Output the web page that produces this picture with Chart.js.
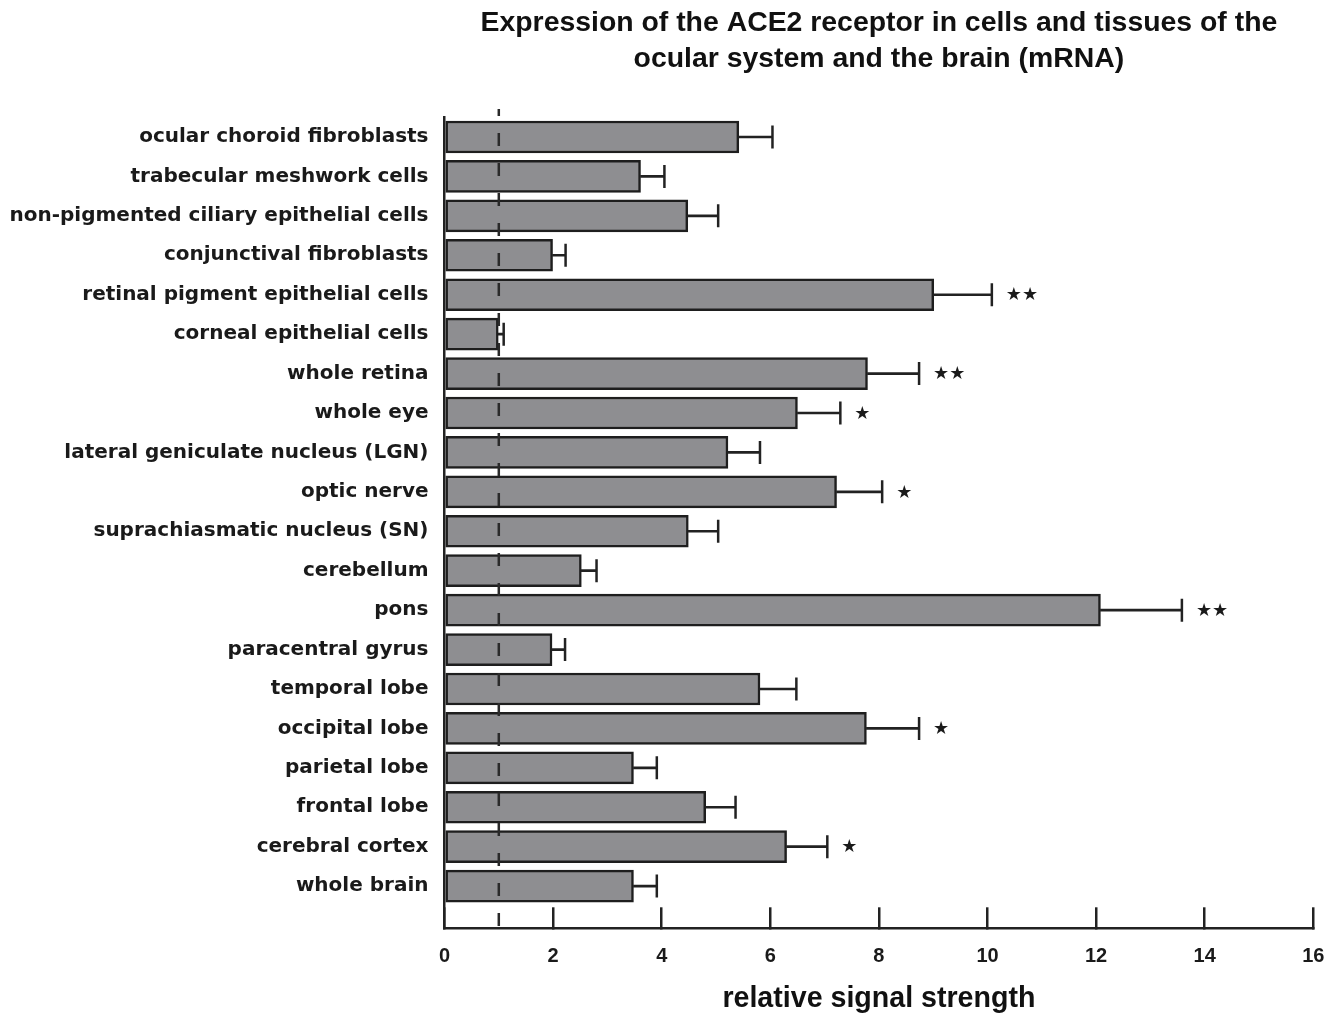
<!DOCTYPE html>
<html><head><meta charset="utf-8">
<script src="https://cdn.jsdelivr.net/npm/chart.js@4.4.0/dist/chart.umd.min.js"></script>
<style>html,body{margin:0;padding:0;background:#fff;overflow:hidden;} #wrap{width:1342px;height:1015px;}</style>
</head><body><div id="wrap"><canvas id="c" width="1342" height="1015"></canvas></div>
<script>
const categories = [
  'ocular choroid fibroblasts',
  'trabecular meshwork cells',
  'non-pigmented ciliary epithelial cells',
  'conjunctival fibroblasts',
  'retinal pigment epithelial cells',
  'corneal epithelial cells',
  'whole retina',
  'whole eye',
  'lateral geniculate nucleus (LGN)',
  'optic nerve',
  'suprachiasmatic nucleus (SN)',
  'cerebellum',
  'pons',
  'paracentral gyrus',
  'temporal lobe',
  'occipital lobe',
  'parietal lobe',
  'frontal lobe',
  'cerebral cortex',
  'whole brain'
];
const meanValues  = [5.42, 3.61, 4.48, 1.99, 9.01, 0.99, 7.79, 6.50, 5.22, 7.22, 4.49, 2.52, 12.08, 1.98, 5.81, 7.77, 3.48, 4.81, 6.30, 3.48];
const errorValues = [0.62, 0.44, 0.56, 0.24, 1.07, 0.10, 0.95, 0.79, 0.59, 0.84, 0.55, 0.28, 1.50, 0.24, 0.67, 0.97, 0.43, 0.55, 0.75, 0.43];
const significance = ['', '', '', '', '**', '', '**', '*', '', '*', '', '', '**', '', '', '*', '', '', '*', ''];
const xTickStep = 2;
const xMin = 0, xMax = 16;
const referenceLevel = 1;
const titleLines = ['Expression of the ACE2 receptor in cells and tissues of the', 'ocular system and the brain (mRNA)'];
const xTitle = 'relative signal strength';

const errEnds = meanValues.map((v, i) => +(v + errorValues[i]).toFixed(2));
const TEXT = '#1a1a1a';

const starPlugin = {
  id: 'stars',
  afterDatasetsDraw(chart) {
    const {ctx, scales: {x, y}} = chart;
    ctx.save();
    ctx.fillStyle = TEXT;
    ctx.font = '18px "DejaVu Sans"';
    ctx.textAlign = 'left';
    ctx.textBaseline = 'middle';
    significance.forEach((s, i) => {
      if (!s) return;
      ctx.fillText(s.replace(/\*/g, '\u2605'), x.getPixelForValue(errEnds[i]) + 14, y.getPixelForValue(i) + 1);
    });
    ctx.restore();
  }
};

new Chart(document.getElementById('c'), {
  type: 'bar',
  data: {
    datasets: [
      {
        type: 'line',
        data: [{x: referenceLevel, y: -0.71}, {x: referenceLevel, y: 20.07}],
        borderColor: '#2a2a2a',
        borderWidth: 2.5,
        borderDash: [13, 17],
        borderDashOffset: 6,
        pointRadius: 0,
        clip: false,
        order: 0
      },
      {
        type: 'scatter',
        data: errEnds.map((e, i) => ({x: e, y: i})),
        pointStyle: 'line',
        rotation: 90,
        radius: 11.5,
        borderWidth: 2.5,
        borderColor: '#222',
        backgroundColor: '#222',
        order: 1
      },
      {
        data: meanValues.map((v, i) => ({x: [v, errEnds[i]], y: i})),
        backgroundColor: '#222',
        borderWidth: 0,
        barThickness: 2,
        grouped: false,
        order: 2
      },
      {
        data: meanValues.map((v, i) => ({x: v, y: i})),
        backgroundColor: '#8e8e91',
        borderColor: '#1e1e1e',
        borderWidth: 2.5,
        borderSkipped: false,
        barThickness: 32,
        grouped: false,
        order: 3
      }
    ]
  },
  options: {
    indexAxis: 'y',
    responsive: false,
    animation: false,
    events: [],
    layout: {padding: {top: 0, right: 28.7, bottom: 0, left: 0}},
    plugins: {
      legend: {display: false},
      tooltip: {enabled: false},
      title: {display: false}
    },
    scales: {
      x: {
        type: 'linear',
        position: 'bottom',
        min: xMin,
        max: xMax,
        ticks: {
          stepSize: xTickStep,
          color: TEXT,
          padding: 37,
          maxRotation: 0,
          font: {family: '"Liberation Sans", Arial, sans-serif', size: 20, weight: 'bold'}
        },
        grid: {display: true, drawOnChartArea: false, drawTicks: true, tickLength: -21, color: '#222', lineWidth: 2.5},
        border: {display: true, color: '#222', width: 2.5},
        title: {
          display: true,
          text: xTitle,
          color: '#111',
          font: {family: '"Liberation Sans", Arial, sans-serif', size: 28.6, weight: 'bold', lineHeight: 1.1},
          padding: {top: 0, bottom: 0}
        },
        afterFit(scale) { scale.height = 86.7; scale.paddingLeft = 0; scale.paddingRight = 0; }
      },
      xTop: {
        type: 'linear',
        position: 'top',
        min: xMin,
        max: xMax,
        ticks: {display: false},
        grid: {display: false, drawTicks: false},
        border: {display: false},
        title: {
          display: true,
          text: titleLines,
          color: '#111',
          font: {family: '"Liberation Sans", Arial, sans-serif', size: 28.4, weight: 'bold', lineHeight: 1.285},
          padding: {top: 4.5, bottom: 0}
        },
        afterFit(scale) { scale.height = 117.3; scale.paddingLeft = 0; scale.paddingRight = 0; }
      },
      y: {
        type: 'linear',
        position: 'left',
        reverse: true,
        offset: false,
        min: -0.5,
        max: 20.07,
        afterBuildTicks(scale) { scale.ticks = categories.map((c, i) => ({value: i})); },
        ticks: {
          autoSkip: false,
          padding: 16,
          color: TEXT,
          font: {family: '"DejaVu Sans", sans-serif', size: 20, weight: 'bold'},
          callback: (v) => categories[v] !== undefined ? categories[v] : ''
        },
        grid: {display: false, drawTicks: false, offset: false},
        border: {display: true, color: '#222', width: 2.5},
        afterFit(scale) { scale.width = 444.5; }
      }
    }
  },
  plugins: [starPlugin]
});
</script>
</body></html>
